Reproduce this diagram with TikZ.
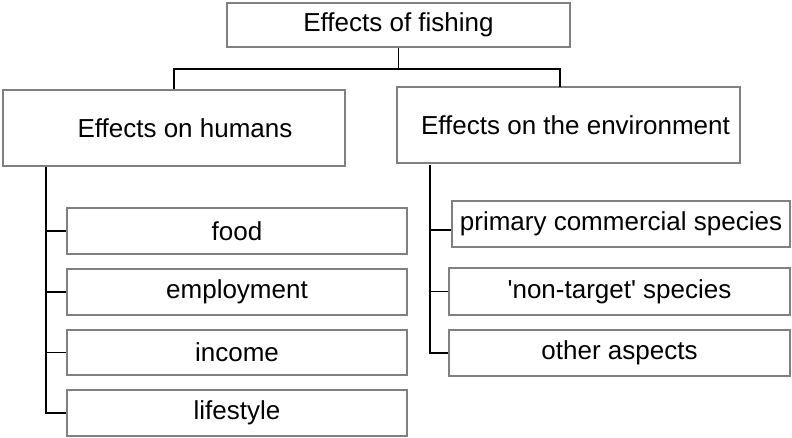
\documentclass[tikz,border=0pt]{standalone}
\usepackage{xcolor}
\usepackage{fontspec}
\setmainfont{Liberation Sans}
\definecolor{boxgray}{RGB}{128,128,128}
\tikzset{
	box/.style={draw=boxgray,line width=1.5pt,fill=white,inner sep=2pt,
		minimum width=340pt,minimum height=46pt,font=\fontsize{26}{31}\selectfont},
	link/.style={draw=black,line width=1.6pt}
}
\begin{document}
\begin{tikzpicture}[x=1pt,y=-1pt]
			\useasboundingbox (0,0) rectangle (792,437);
			% 顶层
			\node[box,minimum width=343pt,minimum height=44pt] (top) at (398.5,25) {Effects of fishing};
			% 第二层
			\node[box,minimum width=342pt,minimum height=76pt] (hum) at (174,128) {\hspace{22pt}Effects on humans};
			\node[box,minimum width=343pt,minimum height=76pt] (env) at (568.5,125) {\hspace{14pt}Effects on the environment};
			% 左边的框
			\node[box] (food) at (237,231) {food};
			\node[box] (empl) at (237,292) {employment};
			\node[box,minimum height=45pt] (inc) at (237,352.5) {income};
			\node[box] (life) at (237,413) {lifestyle};
			% 右边的框
			\node[box,minimum width=338pt] (prim) at (621,224) {primary commercial species};
			\node[box,minimum width=341pt,minimum height=47pt] (nont) at (619.5,291.5) {\textquotesingle non-target\textquotesingle{} species};
			\node[box,minimum width=341pt] (other) at (619.5,353) {other aspects};
			% 连线
			\coordinate (bus) at (398.5,69);
			\coordinate (envtop) at (560,87);
			\coordinate (hstem) at (46,167);
			\coordinate (estem) at (430,165);
			\coordinate (pin) at ([yshift=-6pt]prim.west);
			\draw[link] (top.south) -- (bus);
			\draw[link] (hum.north) |- (bus) -| (envtop);
			\draw[link] (hstem) |- (life.west);
			\foreach \n in {food,empl,inc}
				\draw[link] (hstem |- \n.west) -- (\n.west);
			\draw[link] (estem) |- (other.west);
			\draw[link] (estem |- nont.west) -- (nont.west);
			\draw[link] (estem |- pin) -- (pin);
		\end{tikzpicture}
\end{document}
